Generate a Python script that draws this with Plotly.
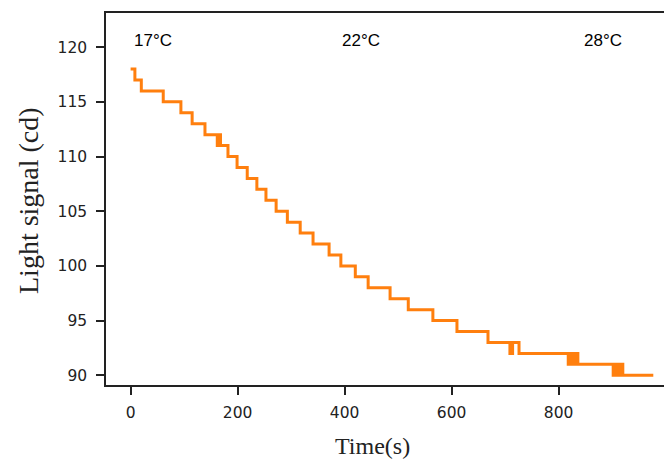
import plotly.graph_objects as go

# Step-change times (s) and light signal levels (cd); line_shape 'hv' holds each value
time_s = [0, 8, 20, 61, 94, 115, 139, 162, 165, 168, 182, 199, 218, 236, 253, 272,
          293, 317, 341, 371, 393, 420, 444, 485, 519, 565, 610, 668, 709, 714,
          726, 818, 822, 827, 831, 836, 902, 906, 911, 915, 920, 977]
signal_cd = [118, 117, 116, 115, 114, 113, 112, 111, 112, 111, 110, 109, 108, 107, 106, 105,
             104, 103, 102, 101, 100, 99, 98, 97, 96, 95, 94, 93, 92, 93,
             92, 91, 92, 91, 92, 91, 90, 91, 90, 91, 90, 90]

temp_labels = ["17°C", "22°C", "28°C"]
temp_label_x = [41, 431, 883]
temp_label_y = [120.6, 120.6, 120.6]

x_ticks = [0, 200, 400, 600, 800]
y_ticks = [90, 95, 100, 105, 110, 115, 120]

fig = go.Figure()
fig.add_trace(go.Scatter(
    x=time_s, y=signal_cd, mode="lines", line_shape="hv",
    line=dict(color="#ff7f0e", width=3), showlegend=False,
))

for txt, tx, ty in zip(temp_labels, temp_label_x, temp_label_y):
    fig.add_annotation(x=tx, y=ty, text=txt, showarrow=False,
                       font=dict(family="Liberation Sans, Arial", size=17, color="black"),
                       xanchor="center", yanchor="middle")

# Axis titles (serif), positioned to match the reference
fig.add_annotation(x=372, y=446, xref="paper", yref="paper", text="Time(s)", showarrow=False,
                   font=dict(family="Liberation Serif, serif", size=24, color="#222"))
fig.add_annotation(x=28, y=201, xref="paper", yref="paper", text="Light signal (cd)", showarrow=False,
                   textangle=-90,
                   font=dict(family="Liberation Serif, serif", size=28, color="#222"))

W, H = 664, 462
L, R, T, B = 106, 0, 13, 77

# convert the two title annotations from pixel to paper coordinates
for ann in fig.layout.annotations[-2:]:
    ann.x = (ann.x - L) / (W - L - R)
    ann.y = 1 - (ann.y - T) / (H - T - B)
    ann.xanchor = "center"
    ann.yanchor = "middle"

tick_font = dict(family="DejaVu Sans", size=15.5, color="#222")
fig.update_layout(
    width=W, height=H,
    margin=dict(l=L, r=R, t=T, b=B, pad=0),
    paper_bgcolor="white", plot_bgcolor="white",
    xaxis=dict(range=[-46, 997], tickvals=x_ticks, ticks="outside", ticklen=8, tickwidth=1.5,
               tickcolor="#222", showline=True, linecolor="#222", linewidth=1.5, mirror=True,
               showgrid=False, zeroline=False, tickfont=tick_font, ticklabelstandoff=5),
    yaxis=dict(range=[89.11, 123.12], tickvals=y_ticks, ticks="outside", ticklen=8, tickwidth=1.5,
               tickcolor="#222", showline=True, linecolor="#222", linewidth=1.5, mirror=False,
               showgrid=False, zeroline=False, tickfont=tick_font, ticklabelstandoff=6),
)

fig.write_html("out.html", config={"displayModeBar": False},
               post_script="document.body.style.margin='0';")
